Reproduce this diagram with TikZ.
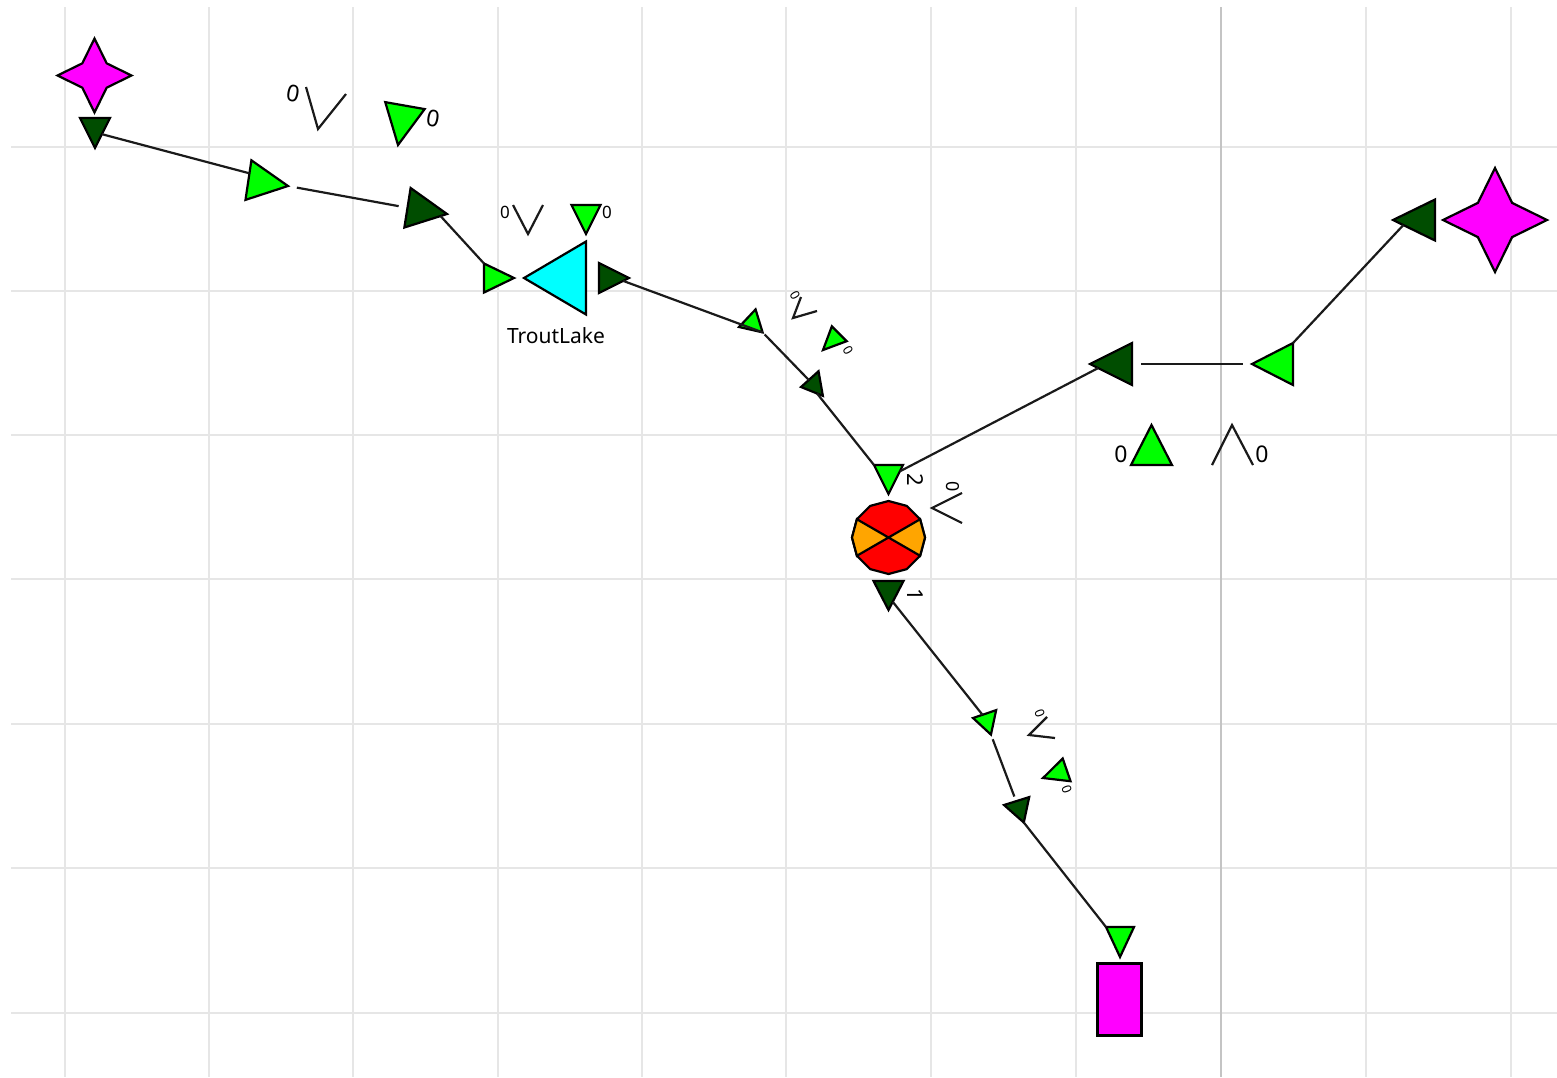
\documentclass[tikz,border=0pt]{standalone}
\usepackage{fontspec}
\setmainfont{Noto Sans}
\usetikzlibrary{shapes.geometric}

\tikzset{
	tri/.style 2 args={isosceles triangle, isosceles triangle stretches, anchor=apex, inner sep=0pt, outer sep=0pt, minimum height=#1, minimum width=#2, draw=black, line width=2.2pt},
	dark/.style={fill=ForkGreen},
	lime/.style={fill=SegGreen},
	sparkle/.style={star, star points=4, star point ratio=2.15, inner sep=0pt, outer sep=0pt, minimum size=#1, draw=black, line width=2.2pt, fill=Pink},
	gridline/.style={GridGray, line width=1.5pt},
	lbl/.style={inner sep=0pt, font=\fontsize{#1}{#1}\selectfont},
	seg/.style={line width=2.2pt, draw=SegInk},
}
\definecolor{ForkGreen}{HTML}{004D00}
\definecolor{SegGreen}{HTML}{00FF00}
\definecolor{GridGray}{HTML}{E6E6E6}
\definecolor{AxisGray}{HTML}{C4C4C4}
\definecolor{SegInk}{HTML}{1A1A1A}
\definecolor{Pink}{HTML}{FF00FF}
\definecolor{LakeCyan}{HTML}{00FFFF}
\definecolor{WedgeOrange}{HTML}{FFA500}

\begin{document}
\begin{tikzpicture}[x=1pt, y=-1pt]
	\useasboundingbox (0,0) rectangle (1557,1077);

	\foreach \gy in {147,291,435,579,724,868,1013}
		\draw [gridline] (11,\gy) -- (1557,\gy);
	\foreach \gx in {65,209,353,498,642,786,931,1076,1366,1511}
		\draw [gridline] (\gx,7) -- (\gx,1077);
	\draw [gridline, AxisGray] (1221,7) -- (1221,1077);

	\node [sparkle=74pt] (SL) at (94.5,75.5) {};
	\node [tri={30pt}{30pt}, dark, rotate=-90] (A) at (95,148) {};
	\node [tri={40pt}{40pt}, lime, rotate=-8.5] (B) at (288,186) {};
	\node [tri={40pt}{40pt}, dark, rotate=-9] (C) at (447,214) {};
	\node [tri={30pt}{29pt}, lime] (D) at (514,278) {};
	\node [tri={62pt}{73pt}, fill=LakeCyan, rotate=180] (TL) at (524,278) {};
	\node [tri={30pt}{30pt}, dark] (E) at (629,278) {};
	\node [tri={21pt}{24pt}, lime, rotate=197] (F) at (739,327) {};
	\node [tri={20pt}{25pt}, dark, rotate=190] (G) at (801,387) {};
	\node [tri={29pt}{29pt}, lime, rotate=-90] (H) at (888.5,494) {};
	\node [regular polygon, regular polygon sides=12, shape border rotate=-15, inner sep=0pt, outer sep=0pt, minimum size=73pt, draw=black, line width=2.2pt, fill=red] (JN) at (888.5,537.5) {};
	\node [tri={29pt}{30pt}, dark, rotate=-90] (I) at (888.5,610) {};
	\node [tri={21pt}{25pt}, lime, rotate=168] (J) at (973,718) {};
	\node [tri={23pt}{26pt}, dark, rotate=168] (K) at (1004,805) {};
	\node [tri={30pt}{28pt}, lime, rotate=-90] (M) at (1120,957) {};
	\node [draw=black, line width=2.2pt, fill=Pink, inner sep=0pt, outer sep=0pt, minimum width=44pt, minimum height=72pt] (SB) at (1119.5,999.5) {};
	\node [tri={42pt}{42pt}, dark, rotate=180] (N) at (1090,364) {};
	\node [tri={41pt}{42pt}, lime, rotate=180] (O) at (1252,364) {};
	\node [tri={42pt}{41pt}, dark, rotate=180] (P) at (1393,220) {};
	\node [sparkle=104pt] (SR) at (1495,220) {};

	% junction wedges
	\filldraw [fill=WedgeOrange, line width=2.2pt] (JN.center) -- (JN.corner 4) -- (JN.corner 5) -- (JN.corner 6) -- cycle;
	\filldraw [fill=WedgeOrange, line width=2.2pt] (JN.center) -- (JN.corner 10) -- (JN.corner 11) -- (JN.corner 12) -- cycle;

	\draw [seg] (A.45) -- (B.151);
	\draw [seg, shorten <=9pt, shorten >=9pt] (B.apex) -- (C.lower side);
	\draw [seg] (C.-8) -- (D.left corner);
	\draw [seg] (E.-11) -- (F.left corner);
	\draw [seg, shorten <=3pt] (F.left corner) -- (G.-53);
	\draw [seg] (G.100) -- (H.right corner);
	\draw [seg] (H.103) -- (N.11);
	\draw [seg] (I.20) -- (J.-44);
	\draw [seg, shorten <=5pt, shorten >=5pt] (J.left corner) -- (K.-55);
	\draw [seg] (K.left corner) -- (M.right corner);
	\draw [seg, shorten <=9pt, shorten >=9pt] (N.lower side) -- (O.apex);
	\draw [seg] (O.right corner) -- (P.15);

	% rating marks
	\node [tri={40pt}{40pt}, lime, rotate=-100] (Ra) at (398,145) {};
	\node [tri={29pt}{29pt}, lime, rotate=-90] (Rb) at (586,234) {};
	\node [tri={23pt}{21pt}, lime, rotate=225] (Rc) at (823,350) {};
	\node [tri={25pt}{24pt}, lime, rotate=199] (Rd) at (1043,778) {};
	\node [tri={40pt}{41pt}, lime, rotate=90] (Re) at (1151.5,425) {};
	\draw [seg] (306,87) -- (318,129) -- (346,94);
	\draw [seg] (513,205) -- (528,234) -- (543,205);
	\draw [seg] (801,297) -- (793,318) -- (817,311);
	\draw [seg] (962,493) -- (932,508) -- (962,523);
	\draw [seg] (1047,717) -- (1029,735) -- (1055,738);
	\draw [seg] (1212,465) -- (1232,425) -- (1253,465);

	\node [lbl=23, rotate=-10] (Va) at (293,94) {0};
	\node [lbl=23, rotate=-10] (Vb) at (433,119) {0};
	\node [lbl=17] (Vc) at (505,212) {0};
	\node [lbl=17] (Vd) at (607,212) {0};
	\node [lbl=13, rotate=-60] (Ve) at (795,295) {0};
	\node [lbl=13, rotate=-60] (Vf) at (848,350) {0};
	\node [lbl=18, rotate=-90] (Vg) at (953,487) {0};
	\node [lbl=13, rotate=-70] (Vh) at (1040,713) {0};
	\node [lbl=13, rotate=-70] (Vi) at (1067,789) {0};
	\node [lbl=23] (Vj) at (1121,454) {0};
	\node [lbl=23] (Vk) at (1262,454) {0};
	\node [lbl=22, rotate=-90] (Pa) at (915,480) {2};
	\node [lbl=22, rotate=-90] (Pb) at (915,595) {1};
	\node [lbl=21] (TLname) at (556,336) {TroutLake};
\end{tikzpicture}
\end{document}
